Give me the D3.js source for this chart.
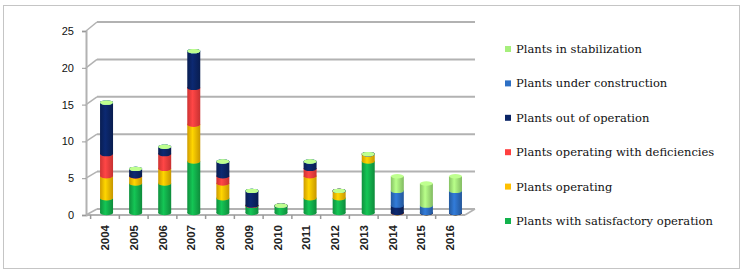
<!DOCTYPE html>
<html>
<head>
<meta charset="utf-8">
<script src="https://cdn.jsdelivr.net/npm/d3@7"></script>
<style>
  body { margin: 0; background: #fff; }
  svg { display: block; }
</style>
</head>
<body>
<svg id="chart"></svg>
<script>
const years = ["2004","2005","2006","2007","2008","2009","2010","2011","2012","2013","2014","2015","2016"];
const satisfactory      = [2,4,4,7,2,1,1,2,2,7,0,0,0];
const operating         = [3,1,2,5,2,0,0,3,1,1,0,0,0];
const deficiencies      = [3,0,2,5,1,0,0,1,0,0,0,0,0];
const outOfOperation    = [7,1,1,5,2,2,0,1,0,0,1,0,0];
const underConstruction = [0,0,0,0,0,0,0,0,0,0,2,1,3];
const stabilization     = [0,0,0,0,0,0,0,0,0,0,2,3,2];
const seriesNames = ["Plants with satisfactory operation", "Plants operating", "Plants operating with deficiencies",
  "Plants out of operation", "Plants under construction", "Plants in stabilization"];
const yTicks = [0, 5, 10, 15, 20, 25];

function makeChart() {
  const w = 744, h = 273;
  const svg = d3.select('#chart').attr('width', w).attr('height', h);

  const keys = ["s0","s1","s2","s3","s4","s5"];
  const cols = ["#12b24c", "#ffc000", "#ff3f3f", "#0b2566", "#2d6fc4", "#a6ef7c"];
  const all = [satisfactory, operating, deficiencies, outOfOperation, underConstruction, stabilization];
  const dataset = years.map((y, i) => {
    const o = { year: y };
    keys.forEach((k, j) => o[k] = all[j][i]);
    return o;
  });
  const stacked = d3.stack().keys(keys)(dataset);

  // outer dotted frame
  svg.append('rect').attr('x', 3.5).attr('y', 5.5).attr('width', 736).attr('height', 263)
    .attr('fill', 'none').attr('stroke', '#8a8a8a').attr('stroke-dasharray', '1,1');

  const yFront = d3.scaleLinear().domain([0, 25]).range([215, 31]);
  const yBack = d3.scaleLinear().domain([0, 25]).range([209, 22]);
  const yBar = d3.scaleLinear().domain([0, 25]).range([213, 29]);
  const xLab = d3.scaleBand().domain(years).range([90.6, 464.4]);
  const xBar = d3.scaleBand().domain(years).range([92, 470]);
  const grid = { stroke: '#b2b2b2', width: 2 };

  // back wall + side wall grid
  yTicks.forEach(v => {
    svg.append('line').attr('x1', 97).attr('x2', 475).attr('y1', yBack(v)).attr('y2', yBack(v))
      .attr('stroke', grid.stroke).attr('stroke-width', grid.width);
    svg.append('line').attr('x1', 86).attr('x2', 97).attr('y1', yFront(v)).attr('y2', yBack(v))
      .attr('stroke', grid.stroke).attr('stroke-width', 1.5);
  });
  // floor
  svg.append('line').attr('x1', 86).attr('x2', 465).attr('y1', 215).attr('y2', 215)
    .attr('stroke', grid.stroke).attr('stroke-width', grid.width);
  svg.append('line').attr('x1', 465).attr('x2', 475).attr('y1', 215).attr('y2', 209)
    .attr('stroke', grid.stroke).attr('stroke-width', 1.5);

  // y axis
  const yAxis = d3.axisLeft(yFront).tickValues(yTicks).tickSize(4).tickPadding(8);
  const yG = svg.append('g').attr('transform', 'translate(86,0)').call(yAxis);
  yG.select('.domain').attr('stroke', grid.stroke).attr('stroke-width', 2);
  yG.selectAll('.tick line').attr('stroke', '#999');
  yG.selectAll('text').attr('font-family', 'Liberation Sans, Arial, sans-serif')
    .attr('font-size', 11).attr('fill', '#111');

  // x axis
  const xAxis = d3.axisBottom(xLab).tickSize(0).tickPadding(0);
  const xG = svg.append('g').attr('transform', 'translate(0,215)').call(xAxis);
  xG.select('.domain').remove();
  xG.selectAll('text')
    .attr('font-family', 'Liberation Sans, Arial, sans-serif').attr('font-size', 11.5)
    .attr('font-weight', 'bold').attr('fill', '#222')
    .attr('text-anchor', 'end').attr('dy', '0.35em')
    .attr('transform', 'translate(0,10) rotate(-90)');
  years.forEach(y => {
    const x = xLab(y);
    svg.append('line').attr('x1', x).attr('x2', x).attr('y1', 215).attr('y2', 219)
      .attr('stroke', '#999').attr('stroke-width', 1.5);
  });

  // cylinder gradients
  const defs = svg.append('defs');
  cols.forEach((c, i) => {
    const g = defs.append('linearGradient').attr('id', 'g' + i);
    g.append('stop').attr('offset', '0%').attr('stop-color', d3.color(c).darker(0.6));
    g.append('stop').attr('offset', '40%').attr('stop-color', d3.color(c).brighter(0.3));
    g.append('stop').attr('offset', '100%').attr('stop-color', d3.color(c).darker(0.7));
  });

  const bw = 13, ry = 2.2;
  stacked.forEach((s, i) => {
    const g = svg.append('g');
    s.forEach(d => {
      const cx = xBar(d.data.year) + xBar.bandwidth() / 2;
      const y0 = yBar(d[0]), y1 = yBar(d[1]);
      const tot = d3.sum(keys, k => d.data[k]);
      if (tot === 0) return;
      g.append('ellipse').attr('cx', cx).attr('cy', y0).attr('rx', bw / 2).attr('ry', ry)
        .attr('fill', `url(#g${i})`);
      g.append('rect').attr('x', cx - bw / 2).attr('y', y1).attr('width', bw).attr('height', y0 - y1)
        .attr('fill', `url(#g${i})`);
      g.append('ellipse').attr('cx', cx).attr('cy', y1).attr('rx', bw / 2).attr('ry', ry)
        .attr('fill', d3.color(cols[i]).brighter(0.4));
    });
  });

  // legend
  const leg = svg.append('g');
  const order = [5, 4, 3, 2, 1, 0];
  order.forEach((si, j) => {
    const cy = 49 + j * 34.4;
    leg.append('rect').attr('x', 505).attr('y', cy - 3).attr('width', 6).attr('height', 6)
      .attr('fill', cols[si]);
    leg.append('text').attr('x', 516).attr('y', cy + 4)
      .attr('font-family', 'DejaVu Serif, serif').attr('font-size', 11.5).attr('fill', '#111')
      .text(seriesNames[si]);
  });
}

window.onload = function() {
  makeChart();
}
</script>
</body>
</html>
